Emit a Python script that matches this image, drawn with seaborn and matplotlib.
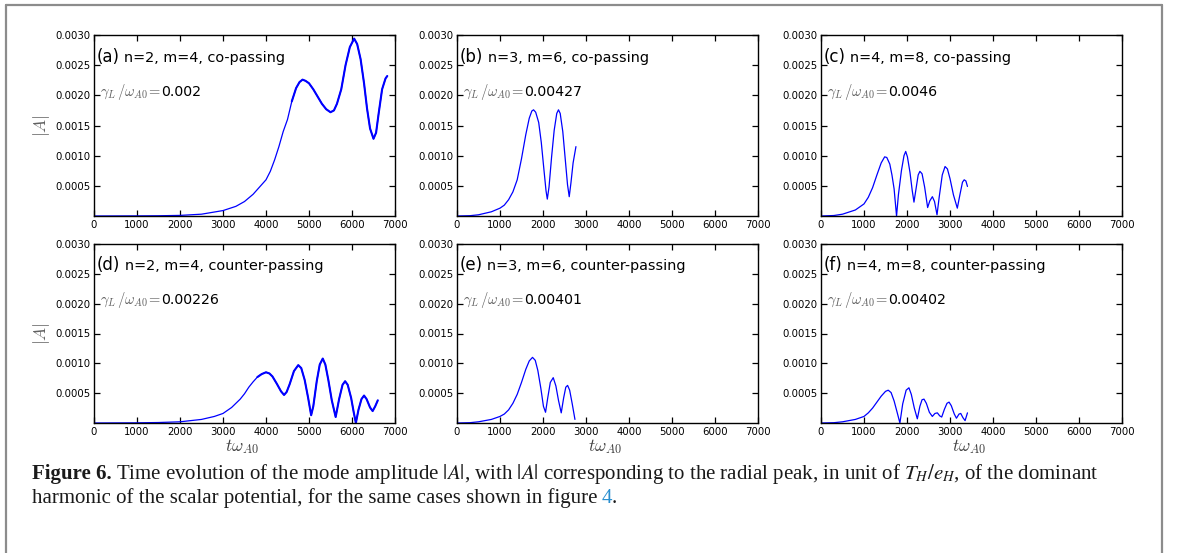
import numpy as np
import pandas as pd
import seaborn as sns
import matplotlib
matplotlib.use("Agg")
import matplotlib.pyplot as plt
from matplotlib.lines import Line2D
from matplotlib.ticker import FormatStrFormatter

# ---------------- data ----------------
a_t = [0, 1000, 1500, 2000, 2500, 3000, 3300, 3500, 3700, 3900, 4000, 4100, 4200, 4300,
       4400, 4500, 4600, 4700, 4780, 4850, 4920, 5000, 5100, 5200, 5300, 5400, 5500, 5580,
       5650, 5750, 5850, 5950, 6050, 6120, 6200, 6280, 6350, 6420, 6500, 6560, 6620, 6700,
       6780, 6820]
a_A = [0, 0.000002, 0.000004, 0.00001, 0.00003, 0.00009, 0.00016, 0.00024, 0.00036, 0.00052,
       0.0006, 0.00074, 0.00093, 0.00115, 0.0014, 0.0016, 0.0019, 0.00212, 0.00222, 0.00226,
       0.00224, 0.0022, 0.0021, 0.00198, 0.00186, 0.00177, 0.00172, 0.00175, 0.00186, 0.0021,
       0.0025, 0.0028, 0.00294, 0.00285, 0.0026, 0.0022, 0.00178, 0.00145, 0.00128, 0.00138,
       0.0017, 0.0021, 0.00228, 0.00232]

b_t = [0, 300, 500, 800, 1000, 1100, 1200, 1300, 1400, 1500, 1600, 1680, 1740, 1780, 1830,
       1900, 1960, 2020, 2070, 2100, 2140, 2200, 2260, 2320, 2360, 2400, 2460, 2520, 2570,
       2610, 2650, 2700, 2766]
b_A = [0, 0.000005, 0.00002, 0.00007, 0.00013, 0.00018, 0.00027, 0.0004, 0.0006, 0.00095,
       0.00135, 0.00162, 0.00174, 0.00176, 0.00172, 0.00155, 0.00122, 0.00078, 0.00042,
       0.00028, 0.00048, 0.00098, 0.00142, 0.0017, 0.00176, 0.0017, 0.0014, 0.00092, 0.00052,
       0.00032, 0.00055, 0.00088, 0.00115]

c_t = [0, 300, 500, 800, 1000, 1100, 1200, 1300, 1400, 1480, 1530, 1600, 1650, 1700, 1757,
       1800, 1870, 1930, 1970, 2010, 2070, 2120, 2162, 2210, 2260, 2300, 2350, 2410, 2480,
       2530, 2590, 2640, 2698, 2750, 2820, 2885, 2940, 3000, 3080, 3170, 3230, 3290, 3330,
       3370, 3406]
c_A = [0, 0.000008, 0.00003, 0.0001, 0.0002, 0.00031, 0.00047, 0.00068, 0.00088, 0.00098,
       0.00097, 0.00086, 0.00068, 0.00045, 0.0, 0.00035, 0.00075, 0.001, 0.00107, 0.00098,
       0.00072, 0.00043, 0.00023, 0.00045, 0.00068, 0.00074, 0.0007, 0.00048, 0.00014,
       0.00025, 0.00032, 0.00024, 0.00002, 0.00032, 0.00068, 0.00082, 0.00078, 0.00062,
       0.00035, 0.00013, 0.00035, 0.00056, 0.0006, 0.00058, 0.00049]

d_t = [0, 1000, 1500, 2000, 2500, 2800, 3000, 3200, 3400, 3500, 3600, 3700, 3800, 3900, 4000,
       4080, 4150, 4250, 4350, 4420, 4480, 4550, 4650, 4750, 4820, 4900, 4980, 5050, 5100,
       5180, 5250, 5320, 5380, 5450, 5530, 5620, 5700, 5780, 5840, 5900, 5980, 6040, 6090,
       6150, 6220, 6280, 6340, 6420, 6480, 6540, 6600]
d_A = [0, 0.000003, 0.000008, 0.00002, 0.00006, 0.00011, 0.00016, 0.00026, 0.0004, 0.00049,
       0.0006, 0.00069, 0.00077, 0.00082, 0.00085, 0.00083, 0.00078, 0.00066, 0.00053,
       0.00047, 0.00052, 0.00065, 0.00087, 0.00097, 0.00092, 0.00072, 0.00042, 0.00013,
       0.00028, 0.0007, 0.00098, 0.00108, 0.00098, 0.00072, 0.00038, 0.0001, 0.0004,
       0.00064, 0.0007, 0.00064, 0.00042, 0.00018, 0.0, 0.00022, 0.0004, 0.00046, 0.0004,
       0.00026, 0.0002, 0.00028, 0.00038]

e_t = [0, 300, 500, 800, 1000, 1100, 1200, 1300, 1400, 1500, 1600, 1680, 1756, 1820, 1880,
       1950, 2010, 2059, 2110, 2170, 2238, 2300, 2360, 2424, 2480, 2530, 2572, 2620, 2680,
       2743]
e_A = [0, 0.000005, 0.00002, 0.00006, 0.00011, 0.00015, 0.00022, 0.00033, 0.00048, 0.00068,
       0.0009, 0.00104, 0.0011, 0.00105, 0.00088, 0.00058, 0.00028, 0.00018, 0.00042,
       0.00068, 0.00076, 0.00062, 0.00038, 0.00017, 0.00042, 0.0006, 0.00063, 0.00055,
       0.00032, 0.00006]

f_t = [0, 300, 500, 800, 1000, 1100, 1200, 1300, 1400, 1500, 1563, 1630, 1700, 1770, 1835,
       1900, 1980, 2045, 2100, 2170, 2240, 2300, 2350, 2395, 2450, 2520, 2589, 2650, 2706,
       2760, 2807, 2870, 2930, 2978, 3030, 3100, 3150, 3210, 3250, 3300, 3351, 3406]
f_A = [0, 0.000005, 0.00002, 0.00006, 0.00011, 0.00017, 0.00025, 0.00035, 0.00045, 0.00053,
       0.00055, 0.00051, 0.00037, 0.00018, 0.0, 0.00032, 0.00055, 0.00059, 0.00048, 0.00025,
       0.00007, 0.00028, 0.00039, 0.0004, 0.00033, 0.00018, 0.00011, 0.00016, 0.00017,
       0.00012, 0.0001, 0.00023, 0.00033, 0.00035, 0.00029, 0.00015, 0.00008, 0.00015,
       0.00016, 0.00009, 0.00004, 0.00017]

panel_tags = ["(a)", "(b)", "(c)", "(d)", "(e)", "(f)"]
panel_titles = ["n=2, m=4, co-passing", "n=3, m=6, co-passing", "n=4, m=8, co-passing",
                "n=2, m=4, counter-passing", "n=3, m=6, counter-passing",
                "n=4, m=8, counter-passing"]
gamma_values = ["0.002", "0.00427", "0.0046", "0.00226", "0.00401", "0.00402"]
# start of the visibly "fuzzy" (thick) part of the trace, None if none
fuzzy_from = [4600, None, None, 3800, None, None]

x_ticks = [0, 1000, 2000, 3000, 4000, 5000, 6000, 7000]
y_ticks = [0.0005, 0.0010, 0.0015, 0.0020, 0.0025, 0.0030]

series = [(a_t, a_A), (b_t, b_A), (c_t, c_A), (d_t, d_A), (e_t, e_A), (f_t, f_A)]

# ---------------- style ----------------
sns.set_style("ticks")
plt.rcParams["font.family"] = ["DejaVu Sans"]
plt.rcParams["mathtext.fontset"] = "cm"

W, H = 1179, 553
fig = plt.figure(figsize=(W / 100, H / 100), dpi=100)
fig.patch.set_facecolor("white")

# outer frame (grey box around the figure)
frame_col = "#8c8c8c"
fx0, fx1, fy0 = 6 / W, 1162 / W, 1 - 5 / H
fig.add_artist(Line2D([fx0, fx1], [fy0, fy0], color=frame_col, lw=1.6, transform=fig.transFigure))
fig.add_artist(Line2D([fx0, fx0], [fy0, -0.01], color=frame_col, lw=1.6, transform=fig.transFigure))
fig.add_artist(Line2D([fx1, fx1], [fy0, -0.01], color=frame_col, lw=1.6, transform=fig.transFigure))

lefts = [94, 457, 821]
tops = [35, 244]
bottoms = [216, 423]
axw = 301

fig.canvas.draw()
renderer = fig.canvas.get_renderer()


def chain(ax, x, y, pieces):
    """Place text pieces one after another on a common baseline (axes coords)."""
    for s, gap_px, kw in pieces:
        x += gap_px / ax.bbox.width
        t = ax.text(x, y, s, transform=ax.transAxes, ha="left", va="baseline", **kw)
        bb = t.get_window_extent(renderer)
        x += bb.width / ax.bbox.width
    return x


for i, (t, A) in enumerate(series):
    r, c = divmod(i, 3)
    top, bot = tops[r], bottoms[r]
    ax = fig.add_axes([lefts[c] / W, 1 - bot / H, axw / W, (bot - top) / H])
    df = pd.DataFrame({"t": t, "A": A})
    sns.lineplot(data=df, x="t", y="A", ax=ax, color="#0000ff", lw=0.9, estimator=None,
                 sort=False)
    if fuzzy_from[i] is not None:
        sub = df[df["t"] >= fuzzy_from[i]]
        sns.lineplot(data=sub, x="t", y="A", ax=ax, color="#0000ff", lw=1.5, estimator=None,
                     sort=False)
    ax.set_xlim(0, 7000)
    ax.set_ylim(0, 0.003)
    ax.set_xticks(x_ticks)
    ax.set_yticks(y_ticks)
    ax.yaxis.set_major_formatter(FormatStrFormatter("%.4f"))
    ax.tick_params(direction="in", top=True, right=True, length=4, width=0.9,
                   labelsize=7.3, colors="black", pad=3)
    ax.tick_params(axis="y", pad=2.5)
    for sp in ax.spines.values():
        sp.set_linewidth(1.0)
        sp.set_color("black")
        sp.set_visible(True)
    ax.set_xlabel("")
    ax.set_ylabel("")

    axh = bot - top
    chain(ax, 0.009, 1 - 26.5 / axh, [
        (panel_tags[i], 0, dict(fontsize=12, color="black")),
        (panel_titles[i], 4.5, dict(fontsize=10.4, color="black")),
    ])
    chain(ax, 0.02, 1 - 60.5 / axh, [
        (r"$\gamma_L\,/\omega_{A0}\!=\!$", 0, dict(fontsize=10.5, color="#606060",
                                                  math_fontfamily="cm")),
        (gamma_values[i], 0.5, dict(fontsize=10.2, color="black")),
    ])

    if c == 0:
        ax.text(-0.176, 0.5, r"$|A|$", transform=ax.transAxes, rotation=90, ha="center",
                va="center", fontsize=12.5, color="#606060", math_fontfamily="cm")
    if r == 1:
        ax.text(0.49, -24 / axh, r"$t\omega_{A0}$", transform=ax.transAxes, ha="center",
                va="center", fontsize=12.5, color="#404040", math_fontfamily="cm")

# ---------------- caption ----------------
cap_ax = fig.add_axes([0, 0, 1, 1])
cap_ax.set_axis_off()
cap_ax.set_xlim(0, 1)
cap_ax.set_ylim(0, 1)
serif = ["Liberation Serif", "DejaVu Serif"]
cap_kw = dict(fontsize=15, color="#1a1a1a", family=serif, math_fontfamily="stix")
chain(cap_ax, 32 / W, 1 - 479 / H, [
    ("Figure 6.", 0, dict(cap_kw, weight="bold")),
    ("Time evolution of the mode amplitude $|A|$, with $|A|$ corresponding to the radial "
     "peak, in unit of $T_H/e_H$, of the dominant", 4, cap_kw),
])
chain(cap_ax, 32 / W, 1 - 503 / H, [
    ("harmonic of the scalar potential, for the same cases shown in figure", 0, cap_kw),
    ("4", 4, dict(cap_kw, color="#2a8fd0")),
    (".", 0, cap_kw),
])

fig.savefig("out.png", dpi=100, facecolor="white")
